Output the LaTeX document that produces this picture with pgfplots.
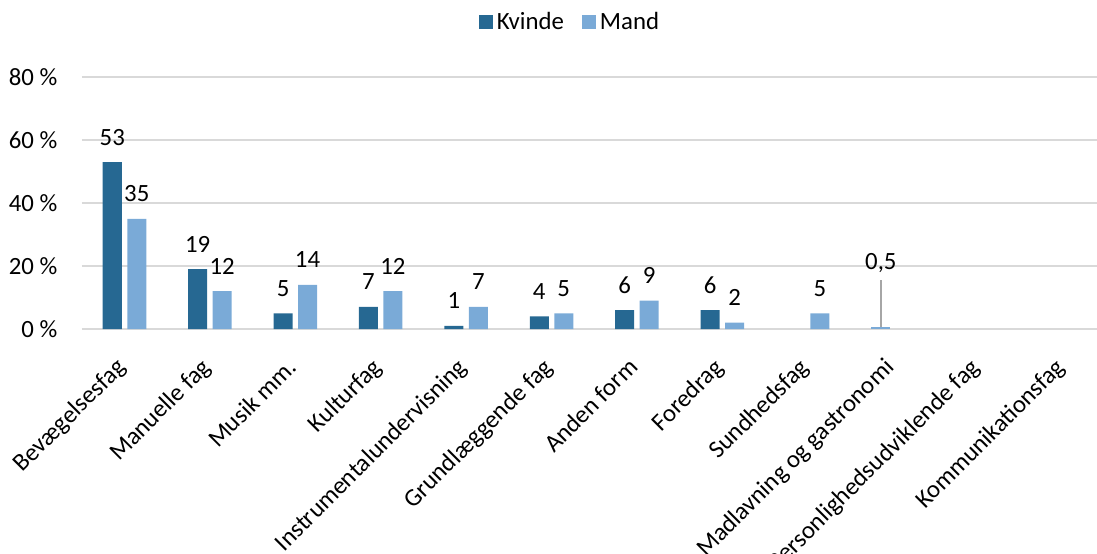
\documentclass[border=0pt]{standalone}
\usepackage{pgfplots}
\pgfplotsset{compat=1.18}
\usepackage{fontspec}
\setmainfont{Carlito}
\definecolor{kvinde}{RGB}{38,104,146}
\definecolor{mand}{RGB}{122,170,215}
\definecolor{gridgray}{RGB}{217,217,217}
\definecolor{leader}{RGB}{166,166,166}

\begin{document}
\begin{tikzpicture}[font=\fontsize{12.4}{14.5}\selectfont]
\path[use as bounding box] (-40.9pt,-112pt) rectangle (507.6pt,164.5pt);
\begin{axis}[
    at={(0,0)}, anchor=south west,
    scale only axis,
    width=512.4pt, height=126pt,
    ybar, bar width=9.5pt,
    xmin=-0.5, xmax=11.5,
    ymin=0, ymax=80,
    xtick={0,...,11},
    xticklabels={Bevægelsesfag, Manuelle fag, Musik mm., Kulturfag,
        Instrumentalundervisning, Grundlæggende fag, Anden form, Foredrag,
        Sundhedsfag, Madlavning og gastronomi, Personlighedsudviklende fag,
        Kommunikationsfag},
    xticklabel style={xshift=-5pt, yshift=-13.5pt, rotate=45, anchor=north east, inner sep=0pt},
    ytick={0,20,40,60,80},
    yticklabels={0~\%, 20~\%, 40~\%, 60~\%, 80~\%},
    yticklabel style={inner sep=0pt, xshift=-12pt},
    axis line style={draw=none},
    major tick length=0pt,
    ymajorgrids,
    grid style={gridgray, line width=0.7pt},
    /pgf/number format/assume math mode=true,
    nodes near coords,
    every node near coord/.append style={anchor=center, yshift=12.5pt, text=black},
    legend style={at={(0.4774,1.218)}, anchor=center, draw=none, fill=none,
        legend columns=-1, inner sep=0pt,
        /tikz/every even column/.append style={column sep=7pt}},
    legend image code/.code={\fill[#1] (0pt,-3.5pt) rectangle (7pt,3.5pt);},
    clip=false,
]
% Kvinde
\addplot[fill=kvinde, draw=none, bar shift=-6.125pt] coordinates {
(0,53) (1,19) (2,5) (3,7) (4,1) (5,4) (6,6) (7,6)
};
\addlegendentry{Kvinde}
% Mand
\addplot[fill=mand, draw=none, bar shift=6.125pt] coordinates {
(0,35) (1,12) (2,14) (3,12) (4,7) (5,5) (6,9) (7,2) (8,5)
};
\addlegendentry{Mand}
% Madlavning og gastronomi, 0,5
\addplot[fill=mand, draw=none, bar shift=-6.125pt, forget plot,
    point meta=explicit symbolic,
    every node near coord/.append style={yshift=19.5pt}] coordinates {
(9,0.5) [0,5]
};
\draw[leader, line width=0.7pt] ([xshift=-6.125pt]axis cs:9,0.5) -- ([xshift=-6.125pt,yshift=23.5pt]axis cs:9,0.5);
\end{axis}
\end{tikzpicture}
\end{document}
